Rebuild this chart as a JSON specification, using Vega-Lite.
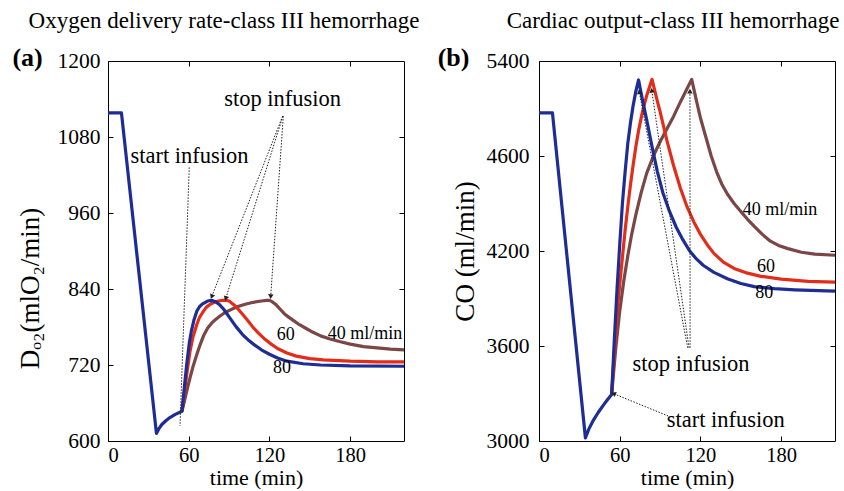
{
  "$schema": "https://vega.github.io/schema/vega-lite/v6.json",
  "background": "white",
  "padding": {"left": 11, "top": 9, "right": 4, "bottom": 0},
  "spacing": 17,
  "config": {
    "font": "Liberation Serif",
    "view": {"stroke": "black", "strokeWidth": 1},
    "axis": {
      "labelFont": "Liberation Serif", "titleFont": "Liberation Serif",
      "labelFontSize": 21.5, "titleFontSize": 22, "labelColor": "black", "titleColor": "black",
      "titleFontWeight": "normal", "domain": false, "tickColor": "black", "tickSize": -5,
      "grid": false, "labelPadding": 13
    },
    "text": {"font": "Liberation Serif", "color": "black"}
  },
  "datasets": {
    "leftLines": [
      {"t":55,"v":647,"rate":"40"},{"t":57,"v":665,"rate":"40"},{"t":59,"v":683,"rate":"40"},{"t":61,"v":700,"rate":"40"},{"t":63,"v":716,"rate":"40"},{"t":65,"v":730,"rate":"40"},{"t":67,"v":743,"rate":"40"},{"t":69,"v":755,"rate":"40"},{"t":71,"v":766,"rate":"40"},{"t":74,"v":778,"rate":"40"},{"t":77,"v":786,"rate":"40"},{"t":80,"v":792,"rate":"40"},{"t":83,"v":797,"rate":"40"},{"t":87,"v":803,"rate":"40"},{"t":91,"v":807,"rate":"40"},{"t":96,"v":812,"rate":"40"},{"t":102,"v":816,"rate":"40"},{"t":108,"v":819,"rate":"40"},{"t":114,"v":821,"rate":"40"},{"t":118,"v":822,"rate":"40"},{"t":120,"v":822,"rate":"40"},{"t":122,"v":820,"rate":"40"},{"t":125,"v":815,"rate":"40"},{"t":128,"v":808,"rate":"40"},{"t":131,"v":801,"rate":"40"},{"t":134,"v":796,"rate":"40"},{"t":138,"v":790,"rate":"40"},{"t":142,"v":784,"rate":"40"},{"t":147,"v":778,"rate":"40"},{"t":152,"v":772,"rate":"40"},{"t":158,"v":766,"rate":"40"},{"t":165,"v":761,"rate":"40"},{"t":172,"v":757,"rate":"40"},{"t":180,"v":753,"rate":"40"},{"t":190,"v":749,"rate":"40"},{"t":200,"v":747,"rate":"40"},{"t":210,"v":745,"rate":"40"},{"t":220,"v":744,"rate":"40"},
      {"t":55,"v":647,"rate":"60"},{"t":57,"v":680,"rate":"60"},{"t":59,"v":713,"rate":"60"},{"t":61,"v":742,"rate":"60"},{"t":63,"v":763,"rate":"60"},{"t":66,"v":784,"rate":"60"},{"t":68,"v":795,"rate":"60"},{"t":71,"v":805,"rate":"60"},{"t":73,"v":811,"rate":"60"},{"t":76,"v":816,"rate":"60"},{"t":79,"v":819,"rate":"60"},{"t":82,"v":821,"rate":"60"},{"t":85,"v":822,"rate":"60"},{"t":88,"v":822,"rate":"60"},{"t":90,"v":821,"rate":"60"},{"t":93,"v":816,"rate":"60"},{"t":96,"v":810,"rate":"60"},{"t":100,"v":800,"rate":"60"},{"t":104,"v":790,"rate":"60"},{"t":108,"v":779,"rate":"60"},{"t":112,"v":770,"rate":"60"},{"t":116,"v":762,"rate":"60"},{"t":120,"v":755,"rate":"60"},{"t":126,"v":746,"rate":"60"},{"t":133,"v":739,"rate":"60"},{"t":140,"v":734,"rate":"60"},{"t":150,"v":730,"rate":"60"},{"t":160,"v":728,"rate":"60"},{"t":180,"v":726,"rate":"60"},{"t":200,"v":725,"rate":"60"},{"t":220,"v":725,"rate":"60"},
      {"t":0,"v":1118,"rate":"80"},{"t":10,"v":1118,"rate":"80"},{"t":36,"v":612,"rate":"80"},{"t":38,"v":620,"rate":"80"},{"t":40,"v":626,"rate":"80"},{"t":43,"v":632,"rate":"80"},{"t":46,"v":637,"rate":"80"},{"t":50,"v":642,"rate":"80"},{"t":55,"v":647,"rate":"80"},{"t":57,"v":690,"rate":"80"},{"t":58.5,"v":721,"rate":"80"},{"t":60.5,"v":756,"rate":"80"},{"t":62,"v":774,"rate":"80"},{"t":64,"v":792,"rate":"80"},{"t":66,"v":805,"rate":"80"},{"t":68,"v":812,"rate":"80"},{"t":70,"v":816,"rate":"80"},{"t":74,"v":821,"rate":"80"},{"t":77,"v":822,"rate":"80"},{"t":80,"v":820,"rate":"80"},{"t":83,"v":815,"rate":"80"},{"t":86,"v":808,"rate":"80"},{"t":90,"v":796,"rate":"80"},{"t":95,"v":781,"rate":"80"},{"t":100,"v":768,"rate":"80"},{"t":104,"v":760,"rate":"80"},{"t":108,"v":753,"rate":"80"},{"t":114,"v":744,"rate":"80"},{"t":120,"v":737,"rate":"80"},{"t":126,"v":731,"rate":"80"},{"t":133,"v":726,"rate":"80"},{"t":145,"v":722,"rate":"80"},{"t":158,"v":720,"rate":"80"},{"t":180,"v":718.5,"rate":"80"},{"t":220,"v":718,"rate":"80"}
    ],
    "rightLines": [
      {"t":54,"v":3294,"rate":"40"},{"t":57,"v":3580,"rate":"40"},{"t":60,"v":3820,"rate":"40"},{"t":63,"v":4010,"rate":"40"},{"t":66,"v":4170,"rate":"40"},{"t":69,"v":4310,"rate":"40"},{"t":72,"v":4430,"rate":"40"},{"t":76,"v":4570,"rate":"40"},{"t":80,"v":4690,"rate":"40"},{"t":85,"v":4800,"rate":"40"},{"t":90,"v":4890,"rate":"40"},{"t":95,"v":4970,"rate":"40"},{"t":100,"v":5050,"rate":"40"},{"t":105,"v":5140,"rate":"40"},{"t":110,"v":5225,"rate":"40"},{"t":113.5,"v":5284,"rate":"40"},{"t":117,"v":5150,"rate":"40"},{"t":120,"v":5040,"rate":"40"},{"t":124,"v":4920,"rate":"40"},{"t":128,"v":4800,"rate":"40"},{"t":132,"v":4700,"rate":"40"},{"t":136,"v":4620,"rate":"40"},{"t":140,"v":4560,"rate":"40"},{"t":145,"v":4500,"rate":"40"},{"t":150,"v":4450,"rate":"40"},{"t":155,"v":4400,"rate":"40"},{"t":160,"v":4355,"rate":"40"},{"t":166,"v":4305,"rate":"40"},{"t":172,"v":4262,"rate":"40"},{"t":178,"v":4235,"rate":"40"},{"t":185,"v":4215,"rate":"40"},{"t":195,"v":4192,"rate":"40"},{"t":205,"v":4180,"rate":"40"},{"t":220,"v":4173,"rate":"40"},
      {"t":54,"v":3294,"rate":"60"},{"t":56,"v":3560,"rate":"60"},{"t":58,"v":3800,"rate":"60"},{"t":60,"v":3990,"rate":"60"},{"t":62,"v":4160,"rate":"60"},{"t":64,"v":4330,"rate":"60"},{"t":66,"v":4480,"rate":"60"},{"t":68,"v":4620,"rate":"60"},{"t":70,"v":4745,"rate":"60"},{"t":72,"v":4860,"rate":"60"},{"t":74,"v":4960,"rate":"60"},{"t":77,"v":5083,"rate":"60"},{"t":80,"v":5180,"rate":"60"},{"t":84,"v":5284,"rate":"60"},{"t":86,"v":5215,"rate":"60"},{"t":88,"v":5145,"rate":"60"},{"t":90,"v":5080,"rate":"60"},{"t":95,"v":4900,"rate":"60"},{"t":100,"v":4740,"rate":"60"},{"t":105,"v":4600,"rate":"60"},{"t":110,"v":4480,"rate":"60"},{"t":115,"v":4385,"rate":"60"},{"t":120,"v":4305,"rate":"60"},{"t":125,"v":4240,"rate":"60"},{"t":130,"v":4185,"rate":"60"},{"t":137,"v":4130,"rate":"60"},{"t":145,"v":4090,"rate":"60"},{"t":155,"v":4060,"rate":"60"},{"t":165,"v":4040,"rate":"60"},{"t":180,"v":4022,"rate":"60"},{"t":200,"v":4008,"rate":"60"},{"t":220,"v":4003,"rate":"60"},
      {"t":0,"v":5072,"rate":"80"},{"t":10,"v":5072,"rate":"80"},{"t":34.5,"v":3019,"rate":"80"},{"t":37,"v":3075,"rate":"80"},{"t":40,"v":3125,"rate":"80"},{"t":44,"v":3180,"rate":"80"},{"t":48,"v":3228,"rate":"80"},{"t":51,"v":3262,"rate":"80"},{"t":54,"v":3294,"rate":"80"},{"t":56,"v":3640,"rate":"80"},{"t":58,"v":3960,"rate":"80"},{"t":60,"v":4240,"rate":"80"},{"t":62,"v":4500,"rate":"80"},{"t":64,"v":4700,"rate":"80"},{"t":66,"v":4880,"rate":"80"},{"t":68,"v":5010,"rate":"80"},{"t":70,"v":5120,"rate":"80"},{"t":72,"v":5210,"rate":"80"},{"t":74,"v":5280,"rate":"80"},{"t":77,"v":5150,"rate":"80"},{"t":80,"v":5030,"rate":"80"},{"t":84,"v":4860,"rate":"80"},{"t":88,"v":4700,"rate":"80"},{"t":92,"v":4570,"rate":"80"},{"t":97,"v":4450,"rate":"80"},{"t":102,"v":4350,"rate":"80"},{"t":107,"v":4270,"rate":"80"},{"t":112,"v":4200,"rate":"80"},{"t":117,"v":4150,"rate":"80"},{"t":122,"v":4110,"rate":"80"},{"t":130,"v":4065,"rate":"80"},{"t":140,"v":4025,"rate":"80"},{"t":150,"v":3995,"rate":"80"},{"t":160,"v":3975,"rate":"80"},{"t":175,"v":3962,"rate":"80"},{"t":190,"v":3955,"rate":"80"},{"t":220,"v":3946,"rate":"80"}
    ],
    "leftArrows": [
      {"kind":"stop","t0":129.8,"v0":1113,"t1":77.1,"v1":828},
      {"kind":"stop","t0":130,"v0":1113,"t1":87.5,"v1":825},
      {"kind":"stop","t0":130.3,"v0":1113,"t1":120.9,"v1":828},
      {"kind":"start","t0":60.4,"v0":1032,"t1":53.5,"v1":624}
    ],
    "rightArrows": [
      {"kind":"stop","t0":110.5,"v0":3589,"t1":74.5,"v1":5206},
      {"kind":"stop","t0":111.5,"v0":3589,"t1":83.8,"v1":5215},
      {"kind":"stop","t0":112.3,"v0":3589,"t1":112.2,"v1":5210},
      {"kind":"start","t0":96,"v0":3158,"t1":55.4,"v1":3299}
    ],
    "leftBig": [
      {"t":60.6,"v":1050,"label":"start infusion"},
      {"t":129.8,"v":1140,"label":"stop infusion"}
    ],
    "leftSmall": [
      {"t":191,"v":769,"label":"40 ml/min"},
      {"t":132.1,"v":767,"label":"60"},
      {"t":129.3,"v":716,"label":"80"}
    ],
    "rightBig": [
      {"t":113,"v":3486,"label":"stop infusion"},
      {"t":138.8,"v":3133,"label":"start infusion"}
    ],
    "rightSmall": [
      {"t":179.1,"v":4459,"label":"40 ml/min"},
      {"t":168.7,"v":4099,"label":"60"},
      {"t":167.5,"v":3932,"label":"80"}
    ]
  },
  "hconcat": [
    {
      "width": 296,
      "height": 380,
      "title": {"text": "Oxygen delivery rate-class III hemorrhage", "font": "Liberation Serif", "fontSize": 23, "fontWeight": "normal", "color": "black", "anchor": "middle", "dx": -32, "offset": 12},
      "resolve": {"axis": {"x": "independent", "y": "independent"}},
      "layer": [
        {
          "data": {"name": "leftLines"},
          "mark": {"type": "line", "strokeWidth": 3.2, "strokeJoin": "round"},
          "encoding": {
            "x": {"field": "t", "type": "quantitative", "scale": {"domain": [0, 220], "nice": false},
                  "axis": {"values": [0, 60, 120, 180], "title": "time (min)", "titleFontWeight": "normal", "titleFontSize": 22, "labelFontSize": 20.5, "labelPadding": 9, "titlePadding": 2}},
            "y": {"field": "v", "type": "quantitative", "scale": {"domain": [600, 1200], "nice": false, "zero": false},
                  "axis": {"values": [600, 720, 840, 960, 1080, 1200], "format": "d", "title": "Dₒ₂(mlO₂/min)", "titleFontWeight": "normal", "titleFontSize": 27, "titleX": -70, "titleY": 227, "titleBaseline": "alphabetic", "titleAngle": -90}},
            "color": {"field": "rate", "type": "nominal", "scale": {"domain": ["40", "60", "80"], "range": ["#7a4646", "#e22d1a", "#1e2d96"]}, "legend": null}
          }
        },
        {
          "data": {"name": "leftArrows"},
          "mark": {"type": "rule", "strokeWidth": 1, "strokeDash": [1.5, 1.5], "color": "#222"},
          "encoding": {
            "x": {"field": "t0", "type": "quantitative", "axis": {"orient": "top", "labels": false, "title": null, "values": [60, 120, 180]}},
            "y": {"field": "v0", "type": "quantitative", "axis": {"orient": "right", "labels": false, "title": null, "values": [720, 840, 960, 1080]}},
            "x2": {"field": "t1"},
            "y2": {"field": "v1"}
          }
        },
        {
          "data": {"name": "leftArrows"},
          "transform": [
            {"filter": "datum.kind == 'stop'"},
            {"calculate": "atan2((datum.t1 - datum.t0) * 1.3455, (datum.v1 - datum.v0) * 0.6333) * 180 / PI", "as": "ang"}
          ],
          "mark": {"type": "point", "shape": "triangle-up", "filled": true, "color": "#222", "size": 30, "opacity": 1},
          "encoding": {
            "x": {"field": "t1", "type": "quantitative", "axis": null},
            "y": {"field": "v1", "type": "quantitative", "axis": null},
            "angle": {"field": "ang", "type": "quantitative", "scale": null}
          }
        },
        {
          "data": {"name": "leftBig"},
          "mark": {"type": "text", "fontSize": 22.5, "baseline": "middle", "align": "center"},
          "encoding": {
            "x": {"field": "t", "type": "quantitative", "axis": null},
            "y": {"field": "v", "type": "quantitative", "axis": null},
            "text": {"field": "label"}
          }
        },
        {
          "data": {"name": "leftSmall"},
          "mark": {"type": "text", "fontSize": 18, "baseline": "middle", "align": "center"},
          "encoding": {
            "x": {"field": "t", "type": "quantitative", "axis": null},
            "y": {"field": "v", "type": "quantitative", "axis": null},
            "text": {"field": "label"}
          }
        },
        {
          "data": {"values": [{"t": -59.8, "v": 1204, "label": "(a)"}]},
          "mark": {"type": "text", "fontSize": 26, "fontWeight": "bold", "baseline": "middle", "align": "center"},
          "encoding": {
            "x": {"field": "t", "type": "quantitative", "axis": null},
            "y": {"field": "v", "type": "quantitative", "axis": null},
            "text": {"field": "label"}
          }
        }
      ]
    },
    {
      "width": 296,
      "height": 380,
      "title": {"text": "Cardiac output-class III hemorrhage", "font": "Liberation Serif", "fontSize": 23, "fontWeight": "normal", "color": "black", "anchor": "middle", "dx": -14, "offset": 12},
      "resolve": {"axis": {"x": "independent", "y": "independent"}},
      "layer": [
        {
          "data": {"name": "rightLines"},
          "mark": {"type": "line", "strokeWidth": 3.2, "strokeJoin": "round"},
          "encoding": {
            "x": {"field": "t", "type": "quantitative", "scale": {"domain": [0, 220], "nice": false},
                  "axis": {"values": [0, 60, 120, 180], "title": "time (min)", "titleFontWeight": "normal", "titleFontSize": 22, "labelFontSize": 20.5, "labelPadding": 9, "titlePadding": 2}},
            "y": {"field": "v", "type": "quantitative", "scale": {"domain": [3000, 5400], "nice": false, "zero": false},
                  "axis": {"values": [3000, 3600, 4200, 4800, 5400], "format": "d", "labelExpr": "datum.value == 4800 ? '4600' : datum.label", "labelPadding": 15, "title": "CO (ml/min)", "titleFontWeight": "normal", "titleFontSize": 27, "titleX": -66, "titleBaseline": "alphabetic", "titleAngle": -90}},
            "color": {"field": "rate", "type": "nominal", "scale": {"domain": ["40", "60", "80"], "range": ["#7a4646", "#e22d1a", "#1e2d96"]}, "legend": null}
          }
        },
        {
          "data": {"name": "rightArrows"},
          "mark": {"type": "rule", "strokeWidth": 1, "strokeDash": [1.5, 1.5], "color": "#222"},
          "encoding": {
            "x": {"field": "t0", "type": "quantitative", "axis": {"orient": "top", "labels": false, "title": null, "values": [60, 120, 180]}},
            "y": {"field": "v0", "type": "quantitative", "axis": {"orient": "right", "labels": false, "title": null, "values": [3600, 4200, 4800]}},
            "x2": {"field": "t1"},
            "y2": {"field": "v1"}
          }
        },
        {
          "data": {"name": "rightArrows"},
          "transform": [
            {"calculate": "atan2((datum.t1 - datum.t0) * 1.3455, (datum.v1 - datum.v0) * 0.15833) * 180 / PI", "as": "ang"}
          ],
          "mark": {"type": "point", "shape": "triangle-up", "filled": true, "color": "#222", "size": 30, "opacity": 1},
          "encoding": {
            "x": {"field": "t1", "type": "quantitative", "axis": null},
            "y": {"field": "v1", "type": "quantitative", "axis": null},
            "angle": {"field": "ang", "type": "quantitative", "scale": null}
          }
        },
        {
          "data": {"name": "rightBig"},
          "mark": {"type": "text", "fontSize": 22.5, "baseline": "middle", "align": "center"},
          "encoding": {
            "x": {"field": "t", "type": "quantitative", "axis": null},
            "y": {"field": "v", "type": "quantitative", "axis": null},
            "text": {"field": "label"}
          }
        },
        {
          "data": {"name": "rightSmall"},
          "mark": {"type": "text", "fontSize": 18, "baseline": "middle", "align": "center"},
          "encoding": {
            "x": {"field": "t", "type": "quantitative", "axis": null},
            "y": {"field": "v", "type": "quantitative", "axis": null},
            "text": {"field": "label"}
          }
        },
        {
          "data": {"values": [{"t": -63.5, "v": 5416, "label": "(b)"}]},
          "mark": {"type": "text", "fontSize": 26, "fontWeight": "bold", "baseline": "middle", "align": "center"},
          "encoding": {
            "x": {"field": "t", "type": "quantitative", "axis": null},
            "y": {"field": "v", "type": "quantitative", "axis": null},
            "text": {"field": "label"}
          }
        }
      ]
    }
  ]
}
